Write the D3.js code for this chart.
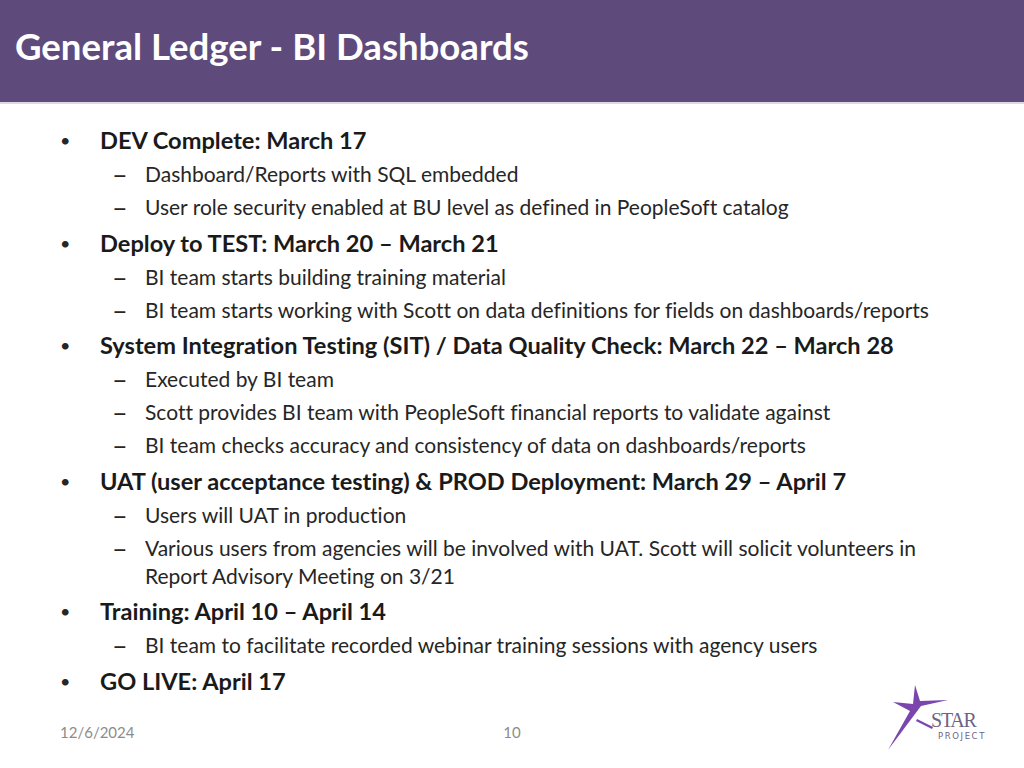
<!DOCTYPE html>
<html>
<head>
<meta charset="utf-8">
<script src="https://cdn.jsdelivr.net/npm/d3@7"></script>
<style>
  html, body { margin: 0; padding: 0; background: #fff; }
  svg { display: block; }
  text { font-variant-ligatures: none; }
</style>
</head>
<body>
<div id="slide"></div>
<script>
// Slide content
const title = 'General Ledger - BI Dashboards';
const levels = [1, 2, 2, 1, 2, 2, 1, 2, 2, 2, 1, 2, 2, 1, 2, 1];
const items = [
  ['DEV Complete: March 17'],
  ['Dashboard/Reports with SQL embedded'],
  ['User role security enabled at BU level as defined in PeopleSoft catalog'],
  ['Deploy to TEST: March 20 \u2013 March 21'],
  ['BI team starts building training material'],
  ['BI team starts working with Scott on data definitions for fields on dashboards/reports'],
  ['System Integration Testing (SIT) / Data Quality Check: March 22 \u2013 March 28'],
  ['Executed by BI team'],
  ['Scott provides BI team with PeopleSoft financial reports to validate against'],
  ['BI team checks accuracy and consistency of data on dashboards/reports'],
  ['UAT (user acceptance testing) & PROD Deployment: March 29 \u2013 April 7'],
  ['Users will UAT in production'],
  ['Various users from agencies will be involved with UAT. Scott will solicit volunteers in',
   'Report Advisory Meeting on 3/21'],
  ['Training: April 10 \u2013 April 14'],
  ['BI team to facilitate recorded webinar training sessions with agency users'],
  ['GO LIVE: April 17']
];
const footerDate = '12/6/2024';
const pageNumber = '10';

const width = 1024;
const height = 768;
const font = 'Lato, "Open Sans", sans-serif';

const svg = d3.select('#slide')
  .append('svg')
  .attr('width', width)
  .attr('height', height);

// Header band
svg.append('rect')
  .attr('x', 0).attr('y', 0)
  .attr('width', width).attr('height', 102)
  .style('fill', '#5f4b7b');
svg.append('rect')
  .attr('x', 0).attr('y', 102)
  .attr('width', width).attr('height', 2)
  .style('fill', '#ddd6e4');

svg.append('text')
  .attr('x', 15)
  .attr('y', 60)
  .style('font-family', font)
  .style('font-size', '36.6px')
  .style('font-weight', 'bold')
  .style('fill', '#ffffff')
  .text(title);

// Bullet list layout: vertical steps between rows
const rows = [];
let y = 141;
items.forEach((lines, i) => {
  if (i > 0) {
    const prev = levels[i - 1];
    const cur = levels[i];
    if (prev === 1) y += 34;
    else if (cur === 1) y += 35.5;
    else y += 33;
  }
  lines.forEach((line, j) => {
    if (j > 0) y += 28;
    rows.push({ level: levels[i], text: line, y: y, first: j === 0 });
  });
});

const list = svg.append('g').attr('class', 'bullets');

const row = list.selectAll('g.row')
  .data(rows)
  .enter()
  .append('g')
  .attr('class', 'row')
  .attr('transform', d => `translate(0, ${d.y})`);

row.filter(d => d.first)
  .append('text')
  .attr('x', d => d.level === 1 ? 60 : 112)
  .attr('dy', '0.35em')
  .style('font-family', font)
  .style('font-size', d => d.level === 1 ? '18px' : '27px')
  .style('fill', '#262626')
  .text(d => d.level === 1 ? '\u2022' : '\u2013');

row.append('text')
  .attr('x', d => d.level === 1 ? 100 : 145)
  .attr('dy', '0.35em')
  .style('font-family', font)
  .style('font-size', d => d.level === 1 ? '23.6px' : '21px')
  .style('font-weight', d => d.level === 1 ? 'bold' : 'normal')
  .style('fill', d => d.level === 1 ? '#1a1a1a' : '#262626')
  .text(d => d.text);

// Footer
svg.append('text')
  .attr('x', 60)
  .attr('y', 738)
  .style('font-family', font)
  .style('font-size', '15px')
  .style('fill', '#8c8c8c')
  .text(footerDate);

svg.append('text')
  .attr('x', 512)
  .attr('y', 738)
  .attr('text-anchor', 'middle')
  .style('font-family', font)
  .style('font-size', '15px')
  .style('fill', '#8c8c8c')
  .text(pageNumber);

// STAR Project logo
const logo = svg.append('g').attr('class', 'logo');
const star = '#7a45ad';
logo.append('path')
  .attr('d', 'M915,685 L920,701 L948,700 L921,706 L888,750 L910,711 L893,702 L913,704 Z')
  .style('fill', star);
logo.append('path')
  .attr('d', 'M917,719 L933,727 L932,729 L916,721 Z')
  .style('fill', star);
logo.append('text')
  .attr('x', 931)
  .attr('y', 727)
  .style('font-family', '"Liberation Serif", serif')
  .style('font-size', '20px')
  .style('letter-spacing', '-1.2px')
  .style('fill', '#6f6384')
  .text('STAR');
logo.append('text')
  .attr('x', 938)
  .attr('y', 739)
  .style('font-family', '"DejaVu Sans", sans-serif')
  .style('font-size', '8.5px')
  .style('letter-spacing', '1.6px')
  .style('fill', '#6f6384')
  .text('PROJECT');
</script>
</body>
</html>
